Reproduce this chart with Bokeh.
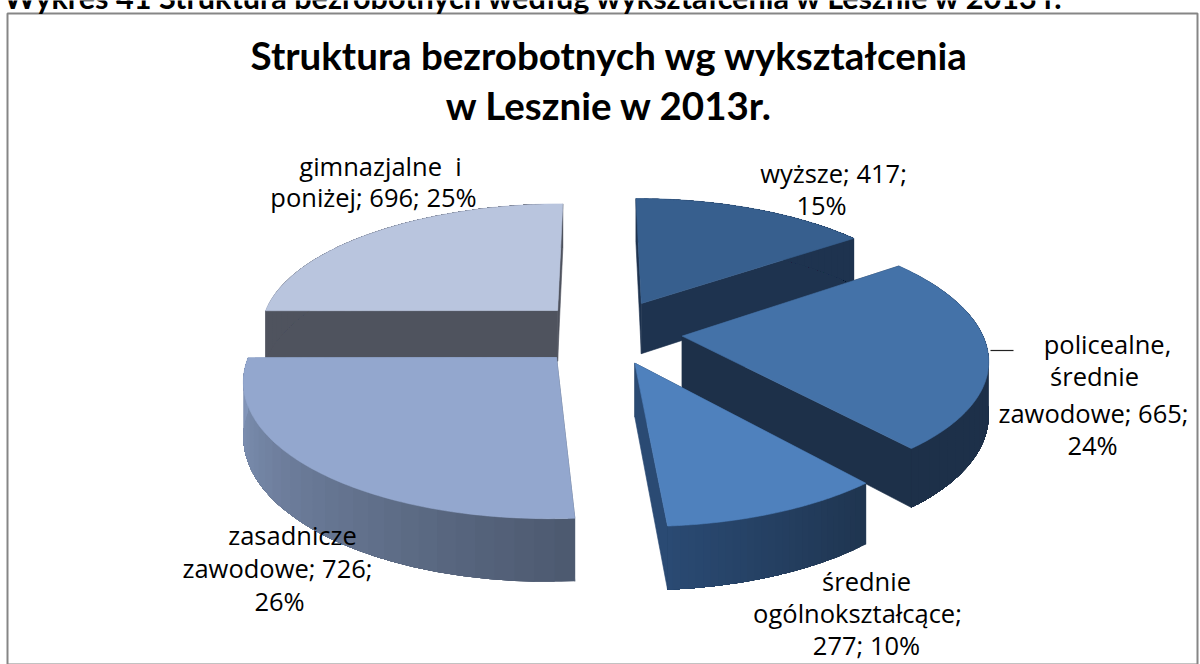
from bokeh.plotting import figure
from bokeh.models import Range1d, Label
from bokeh.embed import file_html
from bokeh.resources import INLINE
import numpy as np

categories = ["wyższe", "policealne, średnie zawodowe", "średnie ogólnokształcące", "zasadnicze zawodowe", "gimnazjalne i poniżej"]
values = [417, 665, 277, 726, 696]
heading = "Wykres 41 Struktura bezrobotnych według wykształcenia w Lesznie w 2013 r."
title_lines = ["Struktura bezrobotnych wg wykształcenia", "w Lesznie w 2013r."]

# styles / layout
top_colors = ["#375F8E", "#4472A8", "#4F81BD", "#93A7CE", "#B9C5DE"]
side_a = ["#1E334F", "#1D3049", "#1F3550", "#4D5A70", "#4F535E"]   # at start angle
side_b = ["#1E334F", "#1D3049", "#2A4A73", "#8497BB", "#4F535E"]   # at end angle
explode = [(.148, .241), (.278, -.02), (.117, -.222), (-.136, -.181), (-.14, .183)]
draw_order = [0, 4, 1, 3, 2]
CX, CY, RX, RY, PERSP, DEPTH = 598, 333, 300, 129, .15, 52

def hexmix(a, b, t):
    ca = [int(a[i:i+2], 16) for i in (1, 3, 5)]
    cb = [int(b[i:i+2], 16) for i in (1, 3, 5)]
    return "#%02x%02x%02x" % tuple(round(x + (y - x) * t) for x, y in zip(ca, cb))

def proj(u, v):
    s = 1 / (1 + PERSP * v)
    return CX + RX * u * s, CY - RY * v * s, DEPTH * s

p = figure(width=1200, height=664, output_backend="svg", toolbar_location=None,
           x_range=Range1d(0, 1200), y_range=Range1d(664, 0), min_border=0,
           outline_line_color=None, margin=(0, 0, 0, 0))
p.xaxis.visible = False
p.yaxis.visible = False
p.grid.visible = False
p.background_fill_color = "white"

def patch(xs, ys, c, lw=.6):
    p.patch(list(xs), list(ys), fill_color=c, line_color=c if lw else None, line_width=lw or 1)

total = sum(values)
fr = np.cumsum([0] + values) / total * 2 * np.pi
for i in draw_order:
    a0, a1 = fr[i], fr[i + 1]
    ou, ov = explode[i]
    th = np.linspace(a0, a1, 90)
    U, V = ou + np.sin(th), ov + np.cos(th)
    X, Y, D = proj(U, V)
    ax, ay, ad = proj(ou, ov)
    # radial faces
    for k in (0, -1):
        patch([ax, X[k], X[k], ax], [ay, Y[k], Y[k] + D[k], ay + ad], side_a[i] if k == 0 else side_b[i])
    # outer band: overlapping colour steps painted over each other
    n = len(th)
    step = 3
    for k in range(0, n - 1, step):
        c = hexmix(side_a[i], side_b[i], k / (n - 2))
        patch(np.r_[X[k:], X[k:][::-1]], np.r_[Y[k:], (Y + D)[k:][::-1]], c, 0)
    # top
    patch(np.r_[ax, X], np.r_[ay, Y], top_colors[i])

# frame
p.quad(left=[7], right=[1197], top=[13], bottom=[664], fill_color=None, line_color="#868686", line_width=2)

# leader
p.line([990, 1013], [350, 350], line_color="#222222", line_width=1.2)

pct = [round(v / total * 100) for v in values]
label_lines = [
    ([f"wyższe; {values[0]};", f"{pct[0]}%"], [(833, 172), (821, 204)]),
    (["policealne,", "średnie", f"zawodowe; {values[1]};", f"{pct[1]}%"], [(1107, 343), (1094, 375), (1093, 412), (1092, 444)]),
    (["średnie", "ogólnokształcące;", f"{values[2]}; {pct[2]}%"], [(866, 580), (857, 612), (866, 644)]),
    (["zasadnicze", f"zawodowe; {values[3]};", f"{pct[3]}%"], [(292, 534), (277, 567), (279, 600)]),
    (["gimnazjalne\u00a0\u00a0i", f"poniżej; {values[4]}; {pct[4]}%"], [(380, 165), (373, 196)]),
]

def txt(s, x, y, size, bold=False):
    p.add_layout(Label(x=x, y=y, text=s, text_font="Open Sans" if not bold else "Lato", text_font_size=f"{size}px",
                       text_font_style="bold" if bold else "normal", text_align="center",
                       text_baseline="middle", text_color="#000000"))

for lines, pos in label_lines:
    for s, (x, y) in zip(lines, pos):
        txt(s, x, y, 25.5)

txt(title_lines[0], 609, 54, 38.5, True)
txt(title_lines[1], 609, 104, 38.5, True)
txt(heading, 534, -3, 30.6, True)

open("out.html", "w").write(file_html(p, INLINE))
